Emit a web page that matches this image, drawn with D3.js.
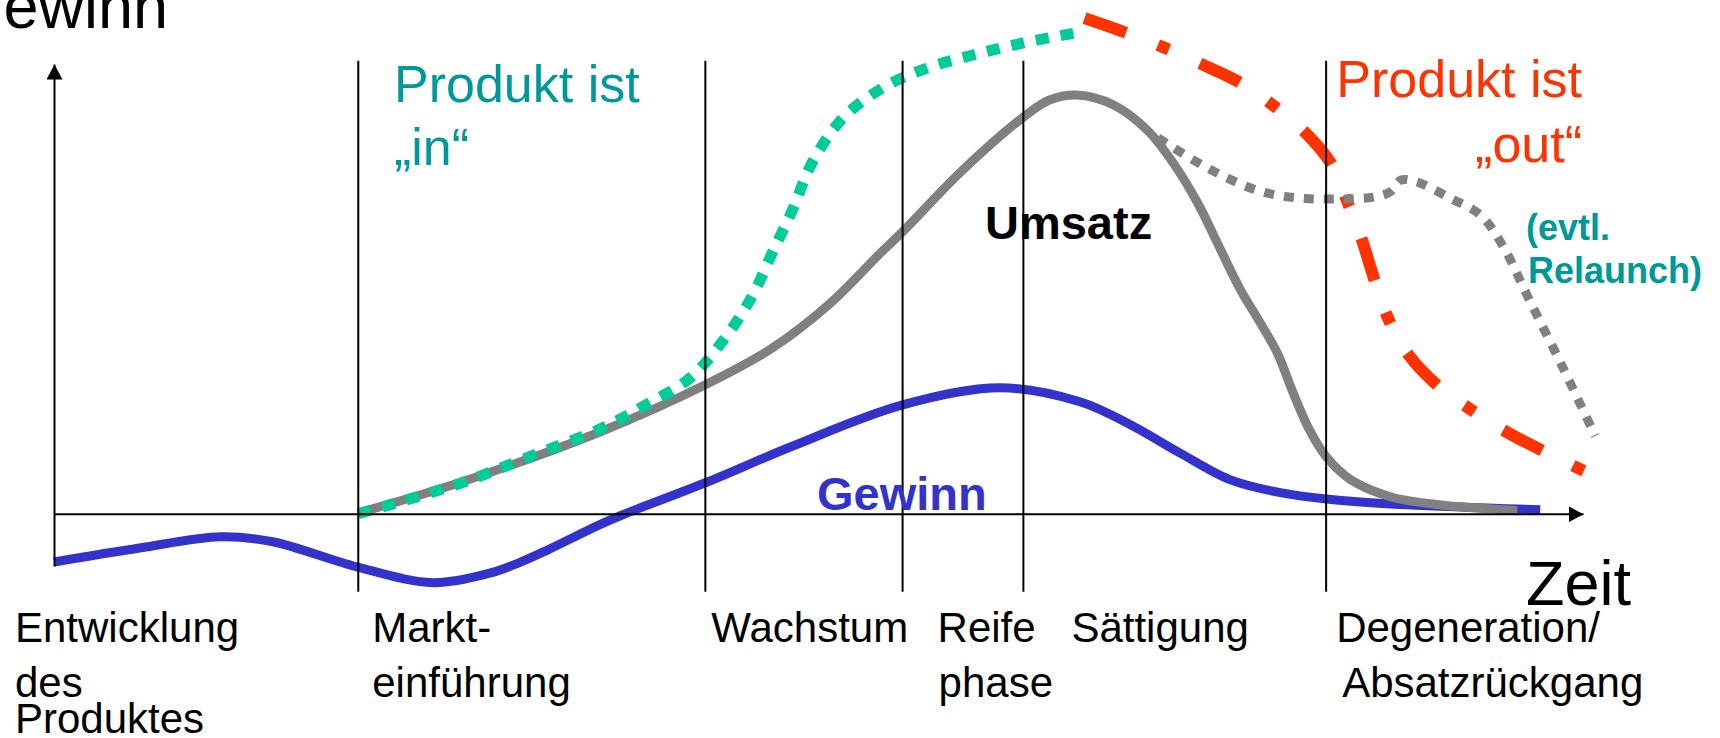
<!DOCTYPE html>
<html lang="de">
<head>
<meta charset="utf-8">
<title>Produktlebenszyklus</title>
<script src="https://cdn.jsdelivr.net/npm/d3@7"></script>
<style>
  html, body { margin: 0; padding: 0; background: #fff; overflow: hidden; }
  svg { display: block; font-family: "Liberation Sans", Arial, sans-serif; }
  .phase-line { stroke: #000; stroke-width: 2; }
  .axis path { stroke: #000; stroke-width: 2; }
  .curve { fill: none; }
</style>
</head>
<body>
<div id="chart"></div>
<script>
// phases on the time axis (0..100)
var phaseStarts = [0, 19.9, 42.6, 55.5, 63.4, 83.2];
var phaseLabels = [
  ["Entwicklung", "des", "Produktes"],
  ["Markt-", "einführung"],
  ["Wachstum"],
  ["Reife", "phase"],
  ["Sättigung"],
  ["Degeneration/", "Absatzrückgang"]
];

// curves as [time, value]
var gewinn = [[0, -10.7], [5.6, -7.6], [10.9, -5.1], [14.3, -6.2], [19.8, -11.8], [24.8, -15.3],
  [28.5, -13.2], [30.4, -10.9], [32.3, -8.0], [35.7, -2.4], [37.2, -0.2], [42.6, 6.9], [48.2, 14.9],
  [55.5, 24.2], [61.9, 28.0], [67.1, 24.9], [70.4, 19.8], [73.6, 13.6], [76.9, 7.6], [80.2, 4.7],
  [83.2, 3.3], [88.5, 2.0], [97.2, 0.9]];

var umsatz = [[19.9, 0.2], [26.5, 6.9], [35.7, 18.2], [42.6, 28.7], [47.0, 36.9], [50.8, 46.9],
  [54.0, 57.8], [55.5, 62.7], [59.3, 76.0], [63.4, 88.2], [65.1, 92.0], [66.9, 93.1], [69.3, 90.9],
  [71.5, 85.3], [73.2, 78.0], [74.8, 69.1], [76.3, 58.7], [77.6, 49.8], [78.9, 42.4], [80.0, 35.8],
  [81.1, 26.4], [82.1, 18.7], [83.2, 12.7], [84.8, 7.6], [87.4, 3.8], [90.6, 2.0], [95.7, 0.7]];

var produktIn = [[19.9, 0], [26.5, 6.7], [31.1, 12.7], [36.0, 19.3], [38.7, 24.2], [41.6, 30.2],
  [43.8, 38.7], [45.6, 48.0], [47.0, 58.2], [48.3, 67.6], [49.6, 78.2], [51.6, 88.0], [54.2, 94.7],
  [57.1, 99.1], [60.1, 102.0], [63.4, 104.7], [66.8, 106.9]];

var produktOut = [[67.4, 110.2], [70.0, 107.1], [72.5, 103.8], [74.9, 100.2], [77.5, 96.0], [79.7, 90.9],
  [81.8, 84.9], [83.5, 78.0], [84.6, 69.3], [85.5, 61.3], [86.4, 51.6], [87.3, 43.1], [88.6, 35.3],
  [90.6, 28.2], [92.7, 23.1], [95.0, 18.2], [97.5, 13.8], [100.2, 9.3]];

var relaunch = [[72.2, 83.6], [74.5, 78.7], [76.7, 74.7], [79.0, 71.6], [81.4, 70.2], [83.8, 70.0],
  [86.3, 70.4], [87.4, 71.6], [88.1, 74.2], [89.1, 73.8], [91.3, 70.2], [93.3, 66.4], [94.8, 59.3],
  [96.4, 48.2], [98.6, 33.1], [100.8, 17.3]];

// texts
var yTitle = "Gewinn", xTitle = "Zeit";
var inText = ["Produkt ist", "\u201Ein\u201C"];
var outText = ["Produkt ist", "\u201Eout\u201C"];
var relaunchText = ["(evtl.", "Relaunch)"];
var umsatzText = "Umsatz", gewinnText = "Gewinn";

var width = 1720, height = 738;

var svg = d3.select("#chart").append("svg")
  .attr("width", width)
  .attr("height", height);

// scales: time 0..100, value with 0 on the time axis
var x = d3.scaleLinear().domain([0, 100]).range([54, 1583]);
var y = d3.scaleLinear().domain([-11.6, 100]).range([566, 64]);

// arrow heads
var defs = svg.append("defs");
defs.append("marker")
  .attr("id", "arrow")
  .attr("viewBox", "0 0 15 16")
  .attr("refX", 15)
  .attr("refY", 8)
  .attr("markerWidth", 15)
  .attr("markerHeight", 16)
  .attr("markerUnits", "userSpaceOnUse")
  .attr("orient", "auto")
  .append("path")
  .attr("d", "M0,0L15,8L0,16Z")
  .attr("fill", "#000");

var line = d3.line()
  .x(function(d) { return x(d[0]); })
  .y(function(d) { return y(d[1]); })
  .curve(d3.curveCatmullRom.alpha(0.5));

// Gewinn (blue)
svg.append("path")
  .datum(gewinn)
  .attr("class", "curve")
  .attr("d", line)
  .attr("stroke", "#3333CC")
  .attr("stroke-width", 9);

// Umsatz (gray)
svg.append("path")
  .datum(umsatz)
  .attr("class", "curve")
  .attr("d", line)
  .attr("stroke", "#808080")
  .attr("stroke-width", 9);

// Produkt ist "in" (green dotted)
svg.append("path")
  .datum(produktIn)
  .attr("class", "curve")
  .attr("d", line)
  .attr("stroke", "#00CC99")
  .attr("stroke-width", 11)
  .attr("stroke-dasharray", "13 12");

// Produkt ist "out" (red dash dot)
svg.append("path")
  .datum(produktOut)
  .attr("class", "curve")
  .attr("d", line)
  .attr("stroke", "#FF3300")
  .attr("stroke-width", 12)
  .attr("stroke-dasharray", "44 34 12 34");

// Relaunch (gray dotted)
svg.append("path")
  .datum(relaunch)
  .attr("class", "curve")
  .attr("d", line)
  .attr("stroke", "#808080")
  .attr("stroke-width", 9)
  .attr("stroke-dasharray", "10 10");

// phase boundaries
svg.selectAll(".phase-line")
  .data(phaseStarts.slice(1))
  .enter()
  .append("line")
  .attr("class", "phase-line")
  .attr("x1", function(d) { return x(d); })
  .attr("x2", function(d) { return x(d); })
  .attr("y1", y(100.7))
  .attr("y2", y(-17.3));

// axes (no ticks, only the lines with arrows)
var xAxis = svg.append("g")
  .attr("class", "axis")
  .attr("transform", "translate(0," + y(0) + ")")
  .call(d3.axisBottom(x).tickValues([]).tickSizeOuter(0));
xAxis.select(".domain").attr("marker-end", "url(#arrow)");

var yAxis = svg.append("g")
  .attr("class", "axis")
  .attr("transform", "translate(" + x(0) + ",0)")
  .call(d3.axisLeft(y).tickValues([]).tickSizeOuter(0));
yAxis.select(".domain").attr("marker-end", "url(#arrow)");

// phase labels
var labelDx = [-39, 14, 6, 35, 48, 10];
var lineDx = [[0, 0, 0], [0, 0], [0], [0, 1], [0], [0, 6]];
var lineY = [642, 697, 733];

phaseLabels.forEach(function(lines, i) {
  lines.forEach(function(s, j) {
    svg.append("text")
      .attr("x", x(phaseStarts[i]) + labelDx[i] + lineDx[i][j])
      .attr("y", lineY[j])
      .attr("font-size", 42)
      .attr("fill", "#000")
      .text(s);
  });
});

// axis titles
svg.append("text")
  .attr("x", 168)
  .attr("y", 28)
  .attr("text-anchor", "end")
  .attr("font-size", 63)
  .text(yTitle);

svg.append("text")
  .attr("x", 1526)
  .attr("y", 605)
  .attr("font-size", 63)
  .text(xTitle);

// annotations
inText.forEach(function(s, j) {
  svg.append("text")
    .attr("x", 394)
    .attr("y", [102, 165][j])
    .attr("font-size", 52)
    .attr("fill", "#009999")
    .text(s);
});

outText.forEach(function(s, j) {
  svg.append("text")
    .attr("x", 1582)
    .attr("y", [97, 162][j])
    .attr("text-anchor", "end")
    .attr("font-size", 52)
    .attr("fill", "#FF3300")
    .text(s);
});

relaunchText.forEach(function(s, j) {
  svg.append("text")
    .attr("x", [1526, 1528][j])
    .attr("y", [240, 283][j])
    .attr("font-size", 36)
    .attr("font-weight", "bold")
    .attr("fill", "#009999")
    .text(s);
});

svg.append("text")
  .attr("x", 985)
  .attr("y", 239)
  .attr("font-size", 47)
  .attr("font-weight", "bold")
  .attr("fill", "#000")
  .text(umsatzText);

svg.append("text")
  .attr("x", 817)
  .attr("y", 510)
  .attr("font-size", 47)
  .attr("font-weight", "bold")
  .attr("fill", "#3333CC")
  .text(gewinnText);
</script>
</body>
</html>
